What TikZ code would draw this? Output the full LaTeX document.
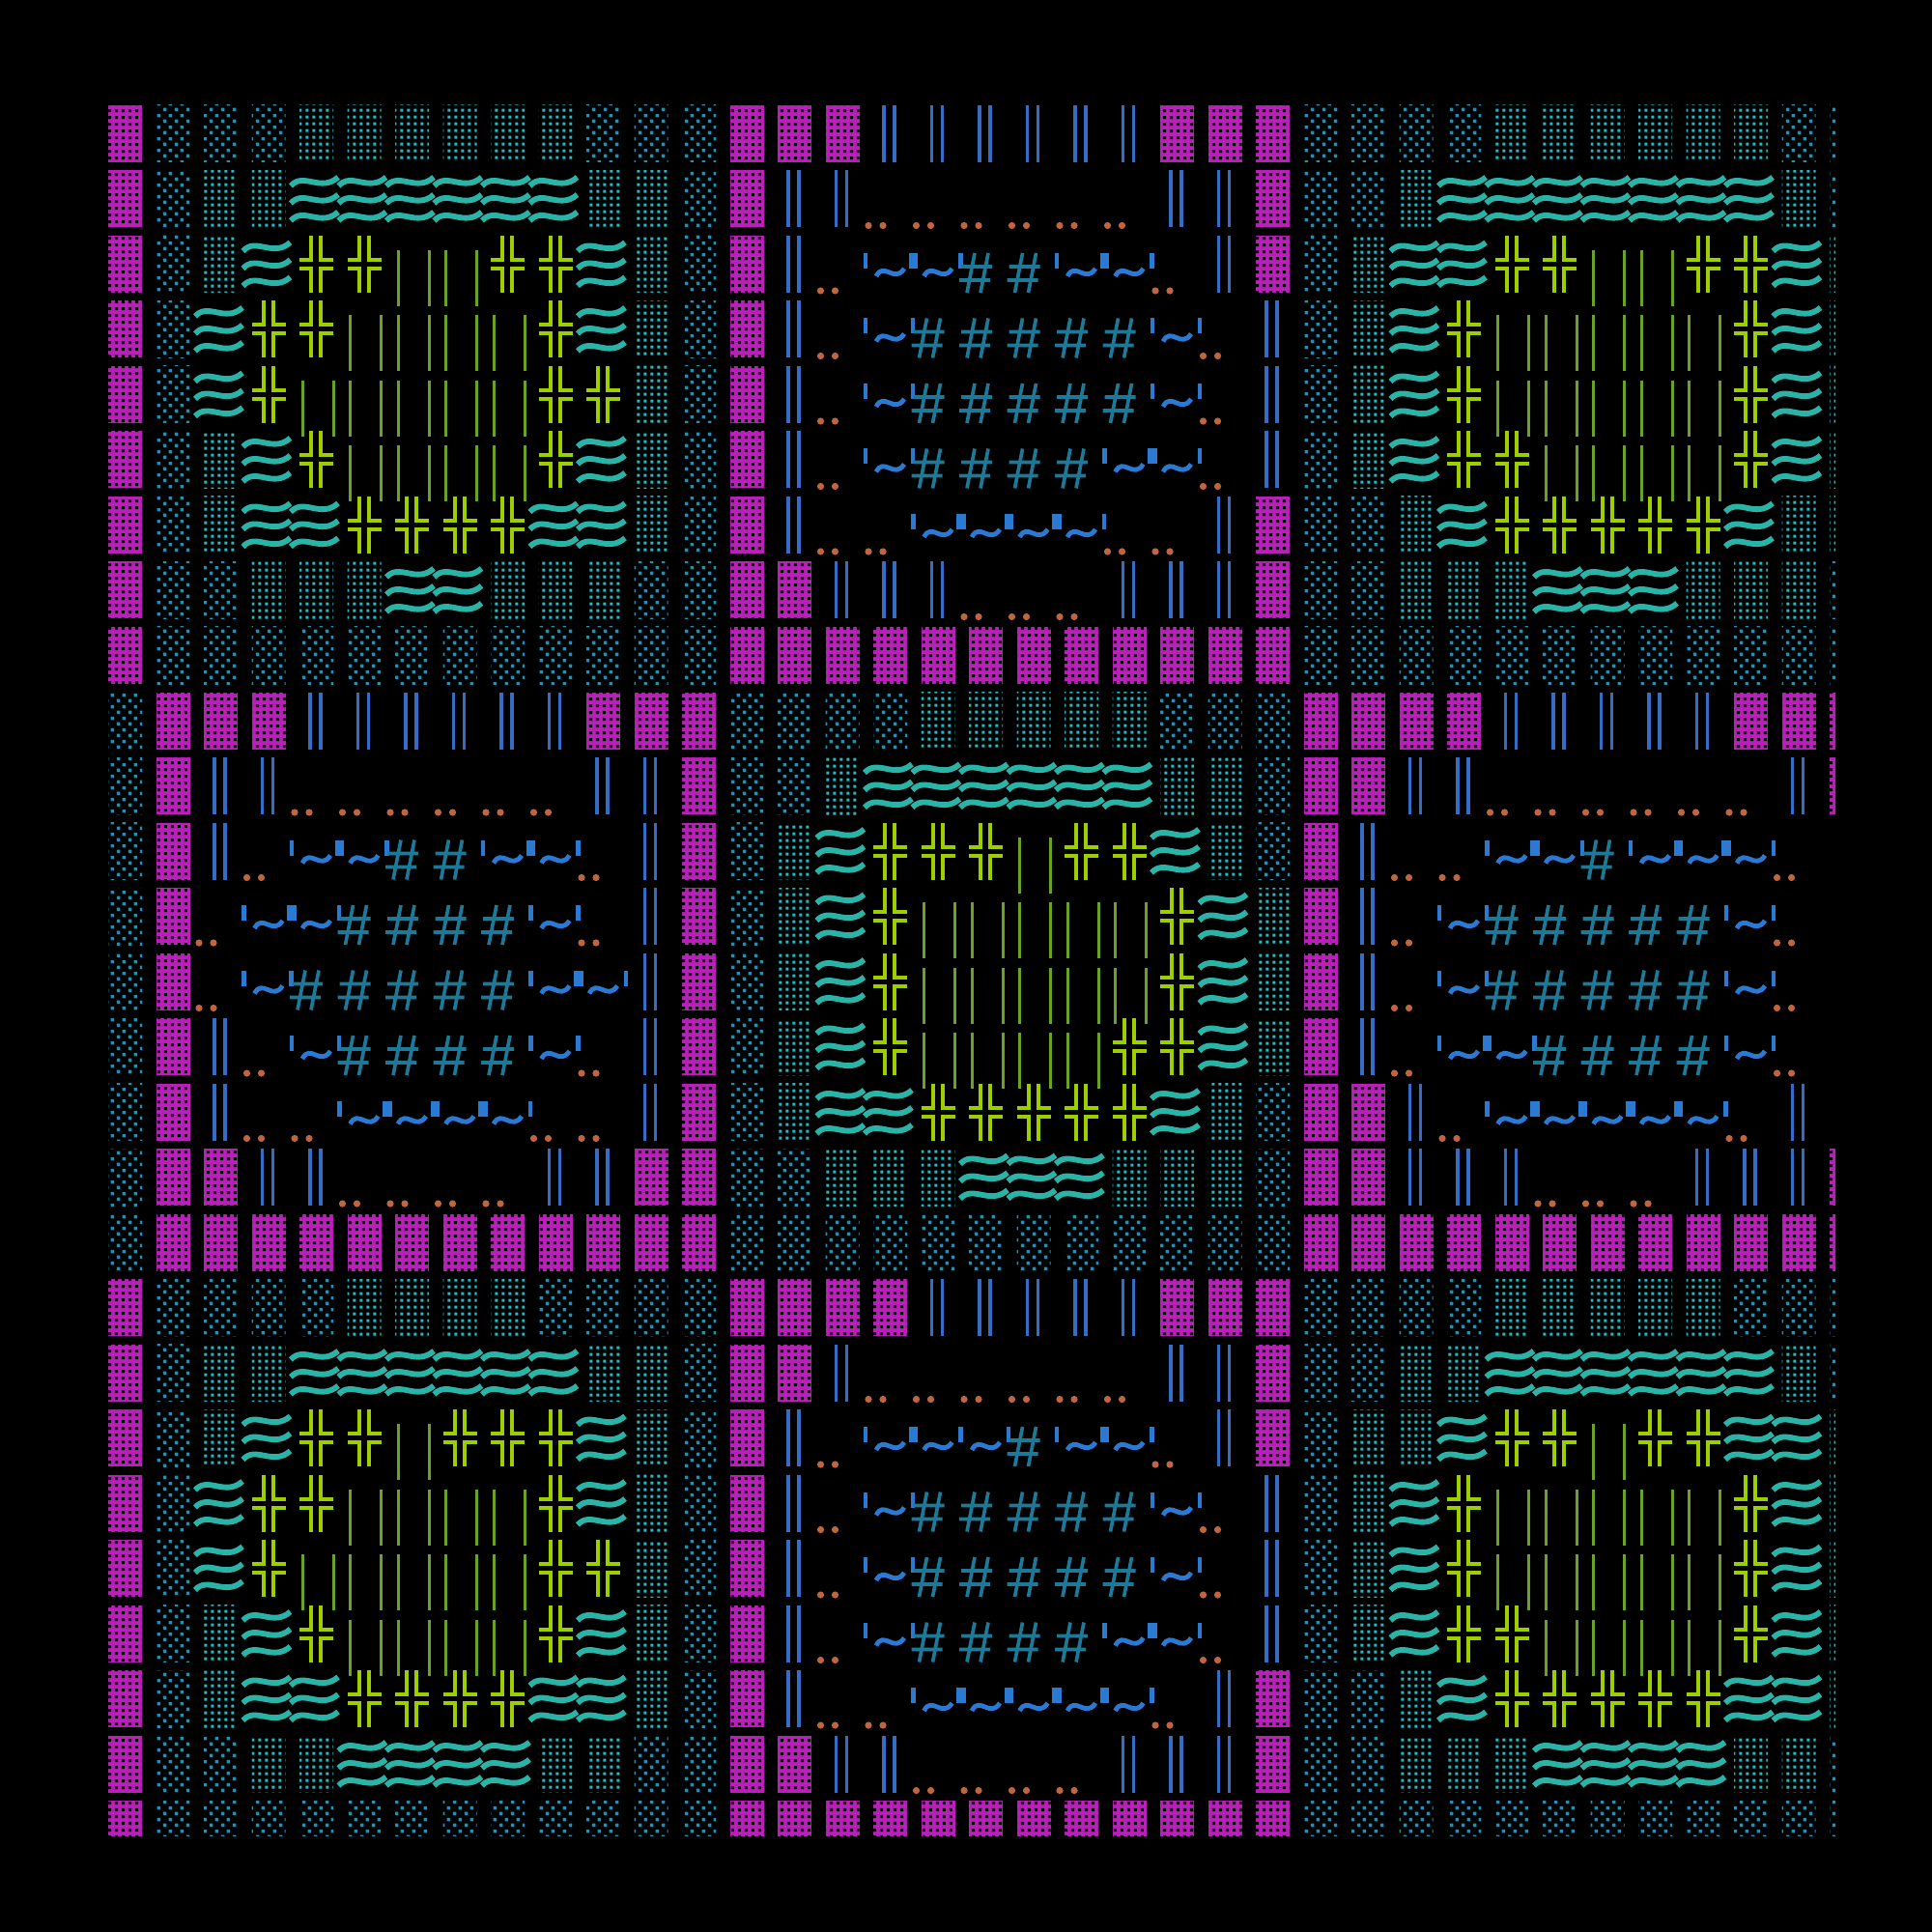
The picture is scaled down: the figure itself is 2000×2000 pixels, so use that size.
\documentclass[tikz,border=0pt]{standalone}
\usetikzlibrary{patterns}

\definecolor{mag}{RGB}{185,32,185}
\definecolor{dotA}{RGB}{22,150,190}
\definecolor{dotB}{RGB}{30,188,196}
\definecolor{wavec}{RGB}{42,180,168}
\definecolor{crossc}{RGB}{156,206,0}
\definecolor{gbarc}{RGB}{106,162,40}
\definecolor{bbarc}{RGB}{52,108,198}
\definecolor{dotc}{RGB}{192,102,62}
\definecolor{hashc}{RGB}{28,122,152}
\definecolor{tildec}{RGB}{42,122,212}

% textures of the shade glyphs
\pgfdeclarepatternformonly{holes}{\pgfqpoint{0pt}{0pt}}{\pgfqpoint{2.2pt}{2.2pt}}{\pgfqpoint{2.2pt}{2.2pt}}%
  {\pgfpathrectangle{\pgfqpoint{0.6pt}{0.6pt}}{\pgfqpoint{1pt}{1pt}}\pgfusepath{fill}}
\pgfdeclarepatternformonly{sparse}{\pgfqpoint{0pt}{0pt}}{\pgfqpoint{3.6pt}{3.6pt}}{\pgfqpoint{3.6pt}{3.6pt}}%
  {\pgfpathrectangle{\pgfqpoint{0.3pt}{0.3pt}}{\pgfqpoint{1.1pt}{1.1pt}}%
   \pgfpathrectangle{\pgfqpoint{2.1pt}{2.1pt}}{\pgfqpoint{1.1pt}{1.1pt}}\pgfusepath{fill}}
\pgfdeclarepatternformonly{dense}{\pgfqpoint{0pt}{0pt}}{\pgfqpoint{2.1pt}{2.1pt}}{\pgfqpoint{2.1pt}{2.1pt}}%
  {\pgfpathrectangle{\pgfqpoint{0.5pt}{0.5pt}}{\pgfqpoint{0.95pt}{0.95pt}}\pgfusepath{fill}}

\tikzset{
  wave/.style={wavec,line width=1.75pt},
  cross/.style={crossc,line width=1.2pt},
  gbar/.style={gbarc,line width=0.9pt},
  bbar/.style={bbarc,line width=1pt},
  hash/.style={hashc,line width=1.1pt},
  tilde/.style={tildec,line width=1.45pt},
  apos/.style={tildec,line width=1.25pt}
}

% one macro per glyph, drawn at (\cx,\cy)
\newcommand\cellM{\fill[mag] (\cx,\cy) rectangle ++(35,59);
  \fill[pattern=holes,pattern color=black] (\cx,\cy) rectangle ++(35,59);}
\newcommand\cella{\fill[pattern=sparse,pattern color=dotA] (\cx,\cy) rectangle ++(35,59);}
\newcommand\cellb{\fill[pattern=dense,pattern color=dotB] (\cx,\cy) rectangle ++(35,59);}
\newcommand\cellW{\foreach \k in {12,30,48}
  \draw[wave] (\cx-9,\cy+\k+4) .. controls (\cx+4,\cy+\k-11) and (\cx+22,\cy+\k+11) .. (\cx+40,\cy+\k-5);}
\newcommand\cellX{\draw[cross] (\cx+12,\cy) -- (\cx+12,\cy+25) -- (\cx,\cy+25)
  (\cx+22,\cy) -- (\cx+22,\cy+25) -- (\cx+35,\cy+25)
  (\cx,\cy+34) -- (\cx+12,\cy+34) -- (\cx+12,\cy+59)
  (\cx+35,\cy+34) -- (\cx+22,\cy+34) -- (\cx+22,\cy+59);}
\newcommand\cellG{\draw[gbar] (\cx+3,\cy+15) -- ++(0,58) (\cx+35,\cy+15) -- ++(0,58);}
\newcommand\cellB{\draw[bbar] (\cx+11,\cy) -- ++(0,59) (\cx+22,\cy) -- ++(0,59);}
\newcommand\cello{\fill[dotc] (\cx-5,\cy+57) circle (3.6) (\cx+10,\cy+57) circle (3.6);}
\newcommand\cellh{\draw[hash] (\cx-2,\cy+59) -- (\cx+6,\cy+18) (\cx+12,\cy+59) -- (\cx+20,\cy+18)
  (\cx-8,\cy+32) -- (\cx+24,\cy+32) (\cx-10,\cy+46) -- (\cx+22,\cy+46);}
\newcommand\tildepart{\draw[tilde] (\cx+3,\cy+42) .. controls (\cx+11,\cy+26) and (\cx+22,\cy+50) .. (\cx+32,\cy+34);
  \draw[apos] (\cx-8,\cy+18) -- (\cx-8,\cy+34);}
\newcommand\cellt{\tildepart\draw[apos] (\cx+41,\cy+18) -- (\cx+41,\cy+34);}
\newcommand\cellT{\tildepart\draw[apos] (\cx+39,\cy+18) -- (\cx+39,\cy+34) (\cx+44,\cy+18) -- (\cx+44,\cy+34);}
\newcommand\cells{}

\begin{document}
\begin{tikzpicture}[x=0.3pt,y=-0.3pt]
  \fill[black] (0,0) rectangle (2000,2000);
  \clip (100,100) rectangle (1900,1900);
  \foreach \row [count=\r from 0] in {
    {M,a,a,a,b,b,b,b,b,b,a,a,a,M,M,M,B,B,B,B,B,B,M,M,M,a,a,a,a,b,b,b,b,b,b,a,a},
    {M,a,b,b,W,W,W,W,W,W,b,b,a,M,B,B,o,o,o,o,o,o,B,B,M,a,a,b,W,W,W,W,W,W,W,b,a},
    {M,a,b,W,X,X,G,G,X,X,W,b,a,M,B,o,T,t,h,h,T,t,o,B,M,a,b,W,W,X,X,G,G,X,X,W,b},
    {M,a,W,X,X,G,G,G,G,X,W,b,a,M,B,o,t,h,h,h,h,h,t,o,B,a,b,W,X,G,G,G,G,G,X,W,b},
    {M,a,W,X,G,G,G,G,G,X,X,b,a,M,B,o,t,h,h,h,h,h,t,o,B,a,b,W,X,G,G,G,G,G,X,W,b},
    {M,a,b,W,X,G,G,G,G,X,W,b,a,M,B,o,t,h,h,h,h,T,t,o,B,a,b,W,X,X,G,G,G,G,X,W,b},
    {M,a,b,W,W,X,X,X,X,W,W,b,a,M,B,o,o,T,T,T,t,o,o,B,M,a,a,b,W,X,X,X,X,X,W,b,b},
    {M,a,a,b,b,b,W,W,b,b,b,a,a,M,M,B,B,B,o,o,o,B,B,B,M,a,a,b,b,b,W,W,W,b,b,b,a},
    {M,a,a,a,a,a,a,a,a,a,a,a,a,M,M,M,M,M,M,M,M,M,M,M,M,a,a,a,a,a,a,a,a,a,a,a,a},
    {a,M,M,M,B,B,B,B,B,B,M,M,M,a,a,a,a,b,b,b,b,b,a,a,a,M,M,M,M,B,B,B,B,B,M,M,M},
    {a,M,B,B,o,o,o,o,o,o,B,B,M,a,a,b,W,W,W,W,W,W,b,b,a,M,M,B,B,o,o,o,o,o,o,B,M},
    {a,M,B,o,T,t,h,h,T,t,o,B,M,a,b,W,X,X,X,G,X,X,W,b,a,M,B,o,o,T,t,h,T,T,t,o,s},
    {a,M,o,T,t,h,h,h,h,t,o,B,M,a,b,W,X,G,G,G,G,G,X,W,b,M,B,o,t,h,h,h,h,h,t,o,s},
    {a,M,o,t,h,h,h,h,h,T,t,B,M,a,b,W,X,G,G,G,G,G,X,W,b,M,B,o,t,h,h,h,h,h,t,o,s},
    {a,M,B,o,t,h,h,h,h,t,o,B,M,a,b,W,X,G,G,G,G,X,X,W,b,M,B,o,T,t,h,h,h,h,t,o,s},
    {a,M,B,o,o,T,T,T,t,o,o,B,M,a,b,W,W,X,X,X,X,X,W,b,a,M,M,B,o,T,T,T,T,t,o,B,s},
    {a,M,M,B,B,o,o,o,o,B,B,M,M,a,a,b,b,b,W,W,W,b,b,b,a,M,M,B,B,B,o,o,o,B,B,B,M},
    {a,M,M,M,M,M,M,M,M,M,M,M,M,a,a,a,a,a,a,a,a,a,a,a,a,M,M,M,M,M,M,M,M,M,M,M,M},
    {M,a,a,a,a,b,b,b,b,a,a,a,a,M,M,M,M,B,B,B,B,B,M,M,M,a,a,a,a,b,b,b,b,b,a,a,a},
    {M,a,b,b,W,W,W,W,W,W,b,b,a,M,M,B,o,o,o,o,o,o,B,B,M,a,a,b,b,W,W,W,W,W,W,b,a},
    {M,a,b,W,X,X,G,X,X,X,W,b,a,M,B,o,T,t,t,h,T,t,o,B,M,a,b,b,W,X,X,G,X,X,W,W,b},
    {M,a,W,X,X,G,G,G,G,X,W,b,a,M,B,o,t,h,h,h,h,h,t,o,B,a,b,W,X,G,G,G,G,G,X,W,b},
    {M,a,W,X,G,G,G,G,G,X,X,b,a,M,B,o,t,h,h,h,h,h,t,o,B,a,b,W,X,G,G,G,G,G,X,W,b},
    {M,a,b,W,X,G,G,G,G,X,W,b,a,M,B,o,t,h,h,h,h,T,t,o,B,a,b,W,X,X,G,G,G,G,X,W,b},
    {M,a,b,W,W,X,X,X,X,W,W,b,a,M,B,o,o,T,T,T,T,t,o,B,M,a,a,b,W,X,X,X,X,X,W,W,b},
    {M,a,a,b,b,W,W,W,W,b,b,a,a,M,M,B,B,o,o,o,o,B,B,B,M,a,a,b,b,b,W,W,W,W,b,b,a},
    {M,a,a,a,a,a,a,a,a,a,a,a,a,M,M,M,M,M,M,M,M,M,M,M,M,a,a,a,a,a,a,a,a,a,a,a,a}}
  {
    \foreach \ch [count=\c from 0] in \row {
      \pgfmathsetmacro\cx{112+49.5*\c}
      \pgfmathsetmacro\cy{109+67.5*\r}
      \csname cell\ch\endcsname
    }
  }
\end{tikzpicture}
\end{document}
